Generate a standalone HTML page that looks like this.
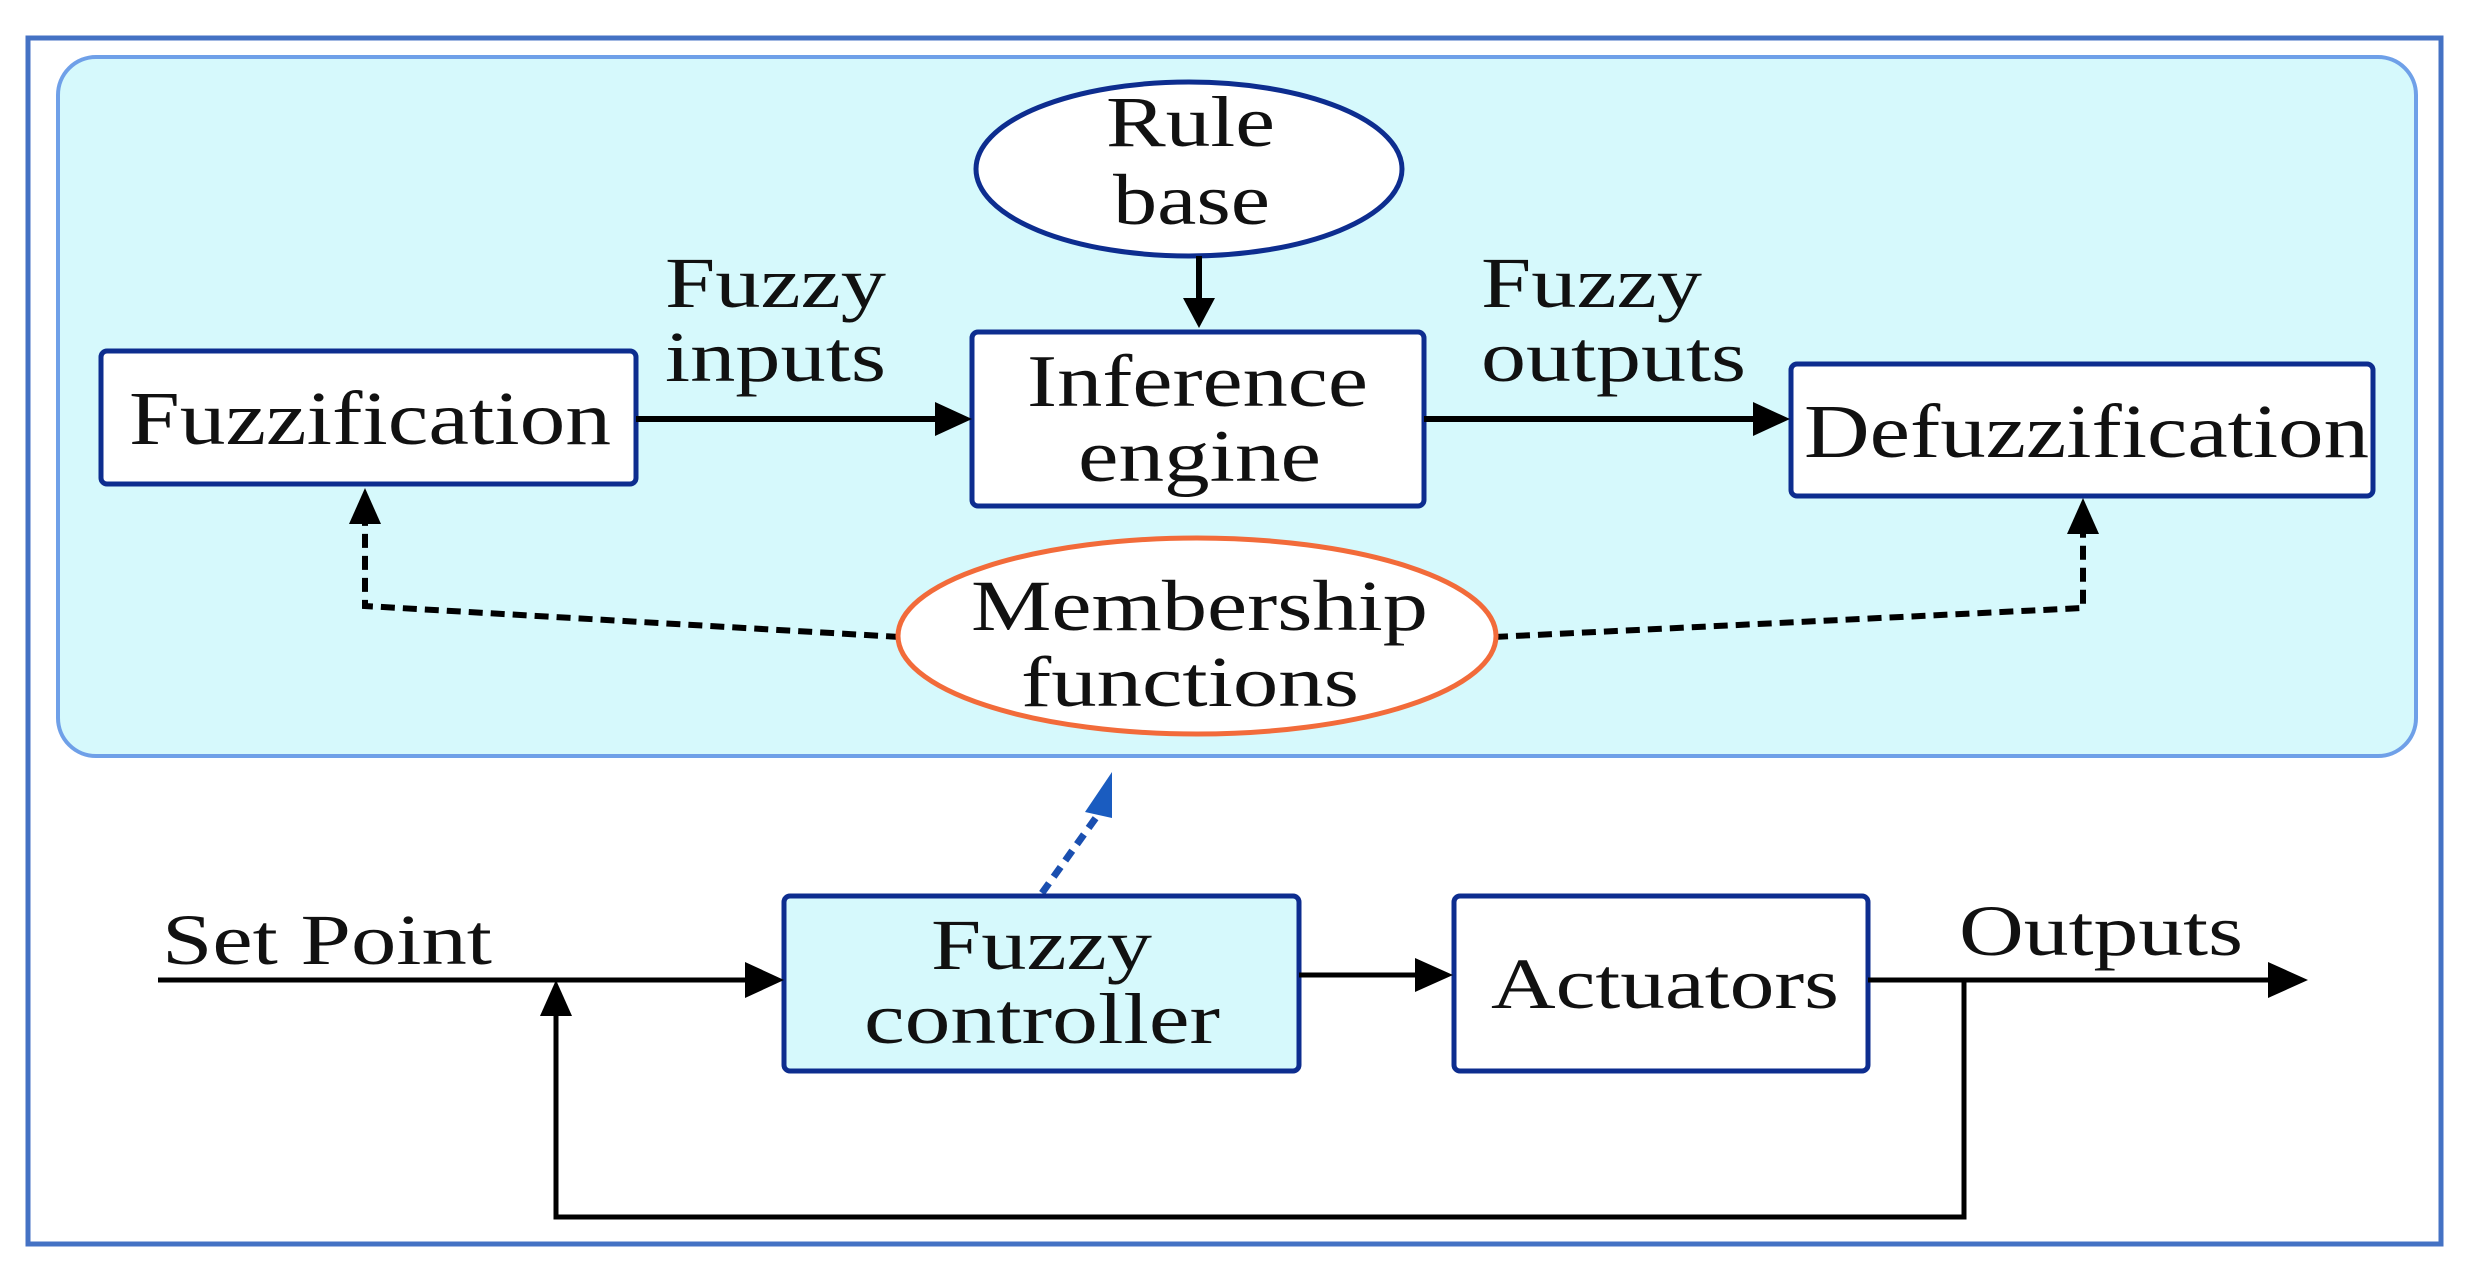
<!DOCTYPE html>
<html><head><meta charset="utf-8"><style>
html,body{margin:0;padding:0;background:#fff;}
svg{display:block;}
text{font-family:"Liberation Serif",serif;fill:#111;}
</style></head><body>
<svg width="2471" height="1283" viewBox="0 0 2471 1283" xmlns="http://www.w3.org/2000/svg">
<rect x="28" y="38" width="2413" height="1206" fill="#fff" stroke="#4472c4" stroke-width="5"/>
<rect x="58" y="57" width="2358" height="699" rx="38" fill="#d6f9fc" stroke="#6fa0e8" stroke-width="4"/>

<!-- Rule base -->
<ellipse cx="1189" cy="169" rx="213" ry="87" fill="#fff" stroke="#0d2d8f" stroke-width="5"/>
<text x="1106" y="146" font-size="72" textLength="169" lengthAdjust="spacingAndGlyphs">Rule</text>
<text x="1113" y="224" font-size="72" textLength="157" lengthAdjust="spacingAndGlyphs">base</text>
<line x1="1199" y1="256" x2="1199" y2="300" stroke="#000" stroke-width="6"/>
<polygon points="1183,298 1215,298 1199,328" fill="#000"/>

<!-- Fuzzification -->
<rect x="101" y="351" width="535" height="133" rx="6" fill="#fff" stroke="#0d2d8f" stroke-width="5"/>
<text x="129" y="444" font-size="76" textLength="482" lengthAdjust="spacingAndGlyphs">Fuzzification</text>

<!-- Inference -->
<rect x="972" y="332" width="452" height="174" rx="6" fill="#fff" stroke="#0d2d8f" stroke-width="5"/>
<text x="1027" y="406" font-size="74" textLength="341" lengthAdjust="spacingAndGlyphs">Inference</text>
<text x="1078" y="481" font-size="74" textLength="243" lengthAdjust="spacingAndGlyphs">engine</text>

<!-- Defuzzification -->
<rect x="1791" y="364" width="582" height="132" rx="6" fill="#fff" stroke="#0d2d8f" stroke-width="5"/>
<text x="1804" y="457" font-size="76" textLength="565" lengthAdjust="spacingAndGlyphs">Defuzzification</text>

<!-- arrows -->
<line x1="636" y1="419" x2="940" y2="419" stroke="#000" stroke-width="6"/>
<polygon points="935,402 972,419 935,436" fill="#000"/>
<line x1="1424" y1="419" x2="1758" y2="419" stroke="#000" stroke-width="6"/>
<polygon points="1753,402 1790,419 1753,436" fill="#000"/>

<text x="665" y="307" font-size="72" textLength="221" lengthAdjust="spacingAndGlyphs">Fuzzy</text>
<text x="665" y="381" font-size="72" textLength="221" lengthAdjust="spacingAndGlyphs">inputs</text>
<text x="1481" y="307" font-size="72" textLength="221" lengthAdjust="spacingAndGlyphs">Fuzzy</text>
<text x="1481" y="381" font-size="72" textLength="265" lengthAdjust="spacingAndGlyphs">outputs</text>

<!-- Membership -->
<polyline points="900,637 365,606 365,520" fill="none" stroke="#000" stroke-width="6" stroke-dasharray="14,8"/>
<polygon points="349,524 381,524 365,488" fill="#000"/>
<polyline points="1494,637 2083,608 2083,530" fill="none" stroke="#000" stroke-width="6" stroke-dasharray="14,8"/>
<polygon points="2067,534 2099,534 2083,498" fill="#000"/>
<ellipse cx="1197" cy="636" rx="299" ry="98" fill="#fff" stroke="#f26b3a" stroke-width="5"/>
<text x="971" y="630" font-size="72" textLength="457" lengthAdjust="spacingAndGlyphs">Membership</text>
<text x="1021" y="706" font-size="72" textLength="338" lengthAdjust="spacingAndGlyphs">functions</text>

<!-- blue dotted -->
<line x1="1042" y1="893" x2="1100" y2="812" stroke="#1a4fb0" stroke-width="7" stroke-dasharray="12,8"/>
<polygon points="1085,812 1112,818 1112,772" fill="#1a5cc0"/>

<!-- bottom -->
<rect x="784" y="896" width="515" height="175" rx="6" fill="#d6f9fc" stroke="#0d2d8f" stroke-width="5"/>
<text x="931" y="969" font-size="72" textLength="221" lengthAdjust="spacingAndGlyphs">Fuzzy</text>
<text x="864" y="1043" font-size="72" textLength="356" lengthAdjust="spacingAndGlyphs">controller</text>
<rect x="1454" y="896" width="414" height="175" rx="6" fill="#fff" stroke="#0d2d8f" stroke-width="5"/>
<text x="1491" y="1008" font-size="72" textLength="348" lengthAdjust="spacingAndGlyphs">Actuators</text>

<line x1="158" y1="980" x2="750" y2="980" stroke="#000" stroke-width="5"/>
<polygon points="745,962 784,980 745,998" fill="#000"/>
<line x1="1299" y1="975" x2="1420" y2="975" stroke="#000" stroke-width="5"/>
<polygon points="1415,958 1453,975 1415,992" fill="#000"/>
<line x1="1868" y1="980" x2="2275" y2="980" stroke="#000" stroke-width="5"/>
<polygon points="2268,962 2308,980 2268,998" fill="#000"/>
<polyline points="1964,980 1964,1217 556,1217 556,1010" fill="none" stroke="#000" stroke-width="5"/>
<polygon points="540,1016 572,1016 556,980" fill="#000"/>

<text x="162" y="964" font-size="72" textLength="330" lengthAdjust="spacingAndGlyphs">Set Point</text>
<text x="1959" y="955" font-size="72" textLength="284" lengthAdjust="spacingAndGlyphs">Outputs</text>
</svg>
</body></html>
